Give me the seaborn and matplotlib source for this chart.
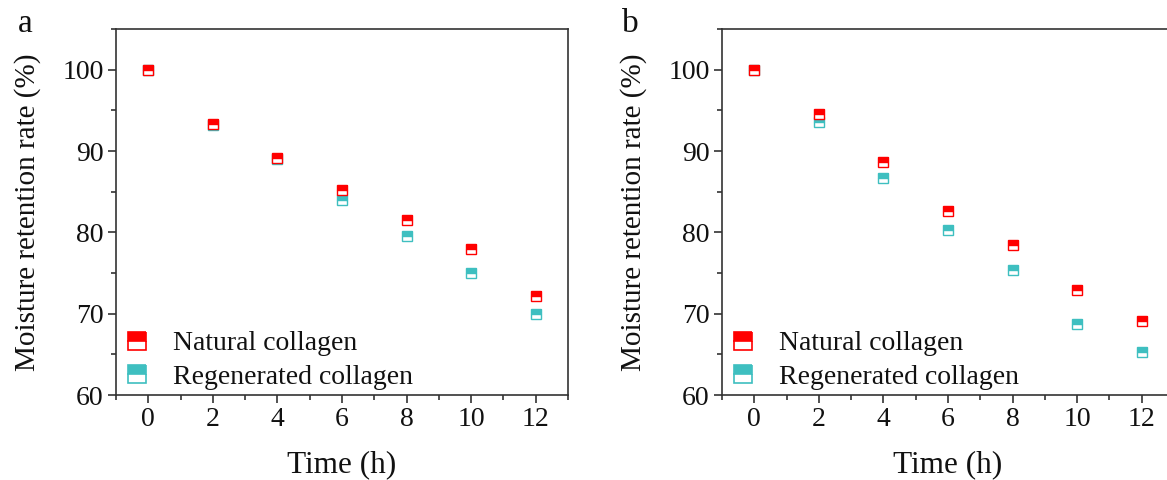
import matplotlib
matplotlib.use("Agg")
import matplotlib.pyplot as plt
import seaborn as sns
import pandas as pd
from matplotlib.ticker import MultipleLocator
from matplotlib.lines import Line2D

time_h = [0, 2, 4, 6, 8, 10, 12]
a_natural = [100.0, 93.3, 89.1, 85.2, 81.5, 78.0, 72.2]
a_regenerated = [100.0, 93.2, 89.0, 84.0, 79.5, 75.0, 69.9]
b_natural = [100.0, 94.6, 88.6, 82.6, 78.5, 72.9, 69.1]
b_regenerated = [100.0, 93.6, 86.7, 80.3, 75.4, 68.7, 65.3]
series_names = ["Natural collagen", "Regenerated collagen"]
colors = {"Natural collagen": "#FF0000", "Regenerated collagen": "#3EBFC0"}
panel_labels = ["a", "b"]
xticks = [0, 2, 4, 6, 8, 10, 12]
yticks = [60, 70, 80, 90, 100]

sns.set_theme(style="ticks")
plt.rcParams["font.family"] = ["Liberation Serif", "DejaVu Serif"]

fig = plt.figure(figsize=(11.67, 4.8), dpi=100)
ax_pos = [
    [116 / 1167, 85 / 480, 452 / 1167, 366 / 480],
    [722 / 1167, 85 / 480, 452 / 1167, 366 / 480],
]
label_x = [18 / 1167, 622 / 1167]
panels = [(a_natural, a_regenerated), (b_natural, b_regenerated)]

for i, (nat, reg) in enumerate(panels):
    ax = fig.add_axes(ax_pos[i])
    df = pd.DataFrame({
        "t": time_h * 2,
        "v": reg + nat,
        "s": [series_names[1]] * len(time_h) + [series_names[0]] * len(time_h),
    })
    for name in [series_names[1], series_names[0]]:
        sub = df[df["s"] == name]
        sns.lineplot(data=sub, x="t", y="v", ax=ax, color=colors[name],
                     marker="s", linestyle="none", markersize=7.5,
                     fillstyle="top", markerfacecoloralt="white",
                     markeredgecolor=colors[name], markeredgewidth=1.0,
                     estimator=None, sort=False, legend=False)
    ax.set_xlim(-1, 13)
    ax.set_ylim(60, 105)
    ax.set_xticks(xticks)
    ax.set_yticks(yticks)
    ax.xaxis.set_minor_locator(MultipleLocator(1))
    ax.yaxis.set_minor_locator(MultipleLocator(5))
    ax.tick_params(which="major", direction="out", length=6, width=1.2,
                   labelsize=20, color="#333333", labelcolor="#111111",
                   top=False, right=False, pad=3)
    ax.tick_params(which="minor", direction="out", length=3.5, width=1.2,
                   color="#333333", top=False, right=False)
    for sp in ax.spines.values():
        sp.set_linewidth(1.2)
        sp.set_color("#333333")
    ax.set_xlabel("Time (h)", fontsize=22.5, labelpad=13, color="#111111")
    ax.set_ylabel("Moisture retention rate (%)", fontsize=21, labelpad=15,
                  color="#111111")
    handles = [Line2D([], [], color=colors[n], marker="s", linestyle="none",
                      markersize=13, fillstyle="top", markerfacecoloralt="white",
                      markeredgecolor=colors[n], markeredgewidth=1.2)
               for n in series_names]
    leg = ax.legend(handles, series_names, loc="lower left", frameon=False,
                    fontsize=20, handletextpad=0.8, borderaxespad=0.0,
                    labelspacing=0.28, handlelength=1.0, borderpad=0.0,
                    bbox_to_anchor=(0.015, 0.015))
    for t in leg.get_texts():
        t.set_color("#111111")
    fig.text(label_x[i], 1 - 24 / 480, panel_labels[i],
             fontsize=24, ha="left", va="center", color="#111111")

fig.savefig("out.png", dpi=100)
